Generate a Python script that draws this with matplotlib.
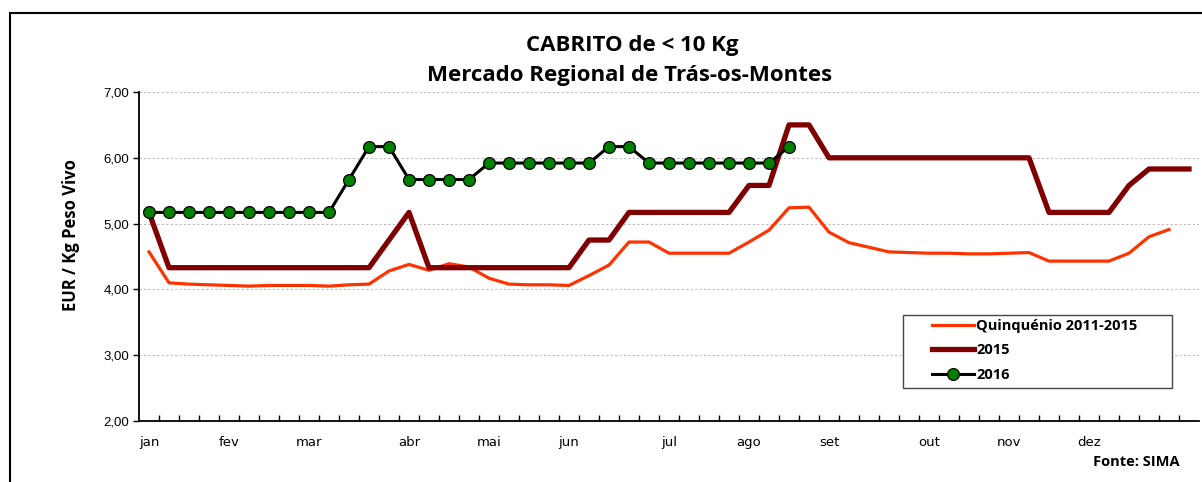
import numpy as np
import matplotlib.pyplot as plt
from matplotlib.patches import Rectangle

# semanas 1..53
semanas = np.arange(53)

quinquenio = [4.57, 4.10, 4.08, 4.07, 4.06, 4.05, 4.06, 4.06, 4.06, 4.05,
              4.07, 4.08, 4.28, 4.38, 4.29, 4.39, 4.34, 4.17, 4.08, 4.07,
              4.07, 4.06, 4.21, 4.37, 4.72, 4.72, 4.55, 4.55, 4.55, 4.55,
              4.72, 4.90, 5.24, 5.25, 4.87, 4.71, 4.64, 4.57, 4.56, 4.55,
              4.55, 4.54, 4.54, 4.55, 4.56, 4.43, 4.43, 4.43, 4.43, 4.55,
              4.80, 4.91, np.nan]

ano_2015 = [5.17, 4.33, 4.33, 4.33, 4.33, 4.33, 4.33, 4.33, 4.33, 4.33,
            4.33, 4.33, 4.75, 5.17, 4.33, 4.33, 4.33, 4.33, 4.33, 4.33,
            4.33, 4.33, 4.75, 4.75, 5.17, 5.17, 5.17, 5.17, 5.17, 5.17,
            5.58, 5.58, 6.50, 6.50, 6.00, 6.00, 6.00, 6.00, 6.00, 6.00,
            6.00, 6.00, 6.00, 6.00, 6.00, 5.17, 5.17, 5.17, 5.17, 5.58,
            5.83, 5.83, 5.83]

ano_2016 = [5.17, 5.17, 5.17, 5.17, 5.17, 5.17, 5.17, 5.17, 5.17, 5.17,
            5.67, 6.17, 6.17, 5.67, 5.67, 5.67, 5.67, 5.92, 5.92, 5.92,
            5.92, 5.92, 5.92, 6.17, 6.17, 5.92, 5.92, 5.92, 5.92, 5.92,
            5.92, 5.92, 6.17]

meses = ['jan', 'fev', 'mar', 'abr', 'mai', 'jun', 'jul', 'ago', 'set',
         'out', 'nov', 'dez']
meses_pos = [0, 4, 8, 13, 17, 21, 26, 30, 34, 39, 43, 47]

# ==========================
# GRÁFICO
# ==========================
W, H = 1202, 482
fig = plt.figure(figsize=(W / 100, H / 100), dpi=100)
ax = fig.add_axes([139/W, 1 - 421/H, 1060/W, 329/H])

ax.plot(semanas, quinquenio, color='#FF3300', lw=2.3,
        label='Quinquénio 2011-2015')
ax.plot(semanas, ano_2015, color='#800000', lw=3.8, label='2015')
ax.plot(semanas[:len(ano_2016)], ano_2016, color='black', lw=2.2,
        marker='o', markersize=8.5, markerfacecolor='#008000',
        markeredgecolor='black', markeredgewidth=0.9, label='2016')

ax.set_xlim(-0.5, 52.5)
ax.set_ylim(2, 7)
ax.set_yticks(np.arange(2, 7.01, 1))
ax.set_yticklabels([f'{v:.2f}'.replace('.', ',') for v in np.arange(2, 7.01, 1)],
                   fontsize=9.5, family='Liberation Sans')
ax.set_xticks(meses_pos)
ax.set_xticklabels(meses, fontsize=9.5, family='DejaVu Sans')
ax.set_xticks(np.arange(0.5, 52.5, 1), minor=True)
ax.tick_params(axis='x', which='major', length=0, pad=11)
ax.tick_params(axis='x', which='minor', direction='in', length=4, width=1)
ax.tick_params(axis='y', direction='out', length=4, width=1, pad=3)

ax.grid(axis='y', color='#BBBBBB', linestyle=(0, (2, 2)), linewidth=0.8)
ax.set_axisbelow(True)
for s in ['top', 'right']:
    ax.spines[s].set_visible(False)
for s in ['left', 'bottom']:
    ax.spines[s].set_linewidth(1.3)

ax.set_ylabel('EUR / Kg Peso Vivo', fontsize=12, fontweight='bold',
              family='Open Sans')
ax.yaxis.set_label_coords((80 - 139) / 1060, (421 - 235) / 329)

fig.text(632/W, 1 - 45/H, 'CABRITO de < 10 Kg', ha='center', va='center',
         fontsize=16, fontweight='bold', family='Open Sans')
fig.text(630/W, 1 - 76/H, 'Mercado Regional de Trás-os-Montes',
         ha='center', va='center', fontsize=16, fontweight='bold',
         family='Open Sans')
fig.text(1180/W, 1 - 462/H, 'Fonte: SIMA', ha='right', va='center',
         fontsize=10.5, fontweight='bold', family='Open Sans')

# legenda: caixa desenhada à parte
ax.add_patch(Rectangle(((903 - 139) / 1060, (421 - 388) / 329),
                       (1172 - 903) / 1060, (388 - 315) / 329,
                       transform=ax.transAxes, facecolor='white',
                       edgecolor='#444444', linewidth=1.0, zorder=4))
leg = ax.legend(loc='upper left',
                bbox_to_anchor=((932 - 139) / 1060, (421 - 319) / 329),
                frameon=False,
                prop={'family': 'Open Sans', 'weight': 'bold', 'size': 10.5},
                handlelength=2.9, borderpad=0.0, labelspacing=0.72,
                handletextpad=0.15, borderaxespad=0)
leg.set_zorder(5)

# moldura exterior
fig.patches.append(Rectangle((10/W, -0.1), 1.2, 1 - 13/H + 0.1,
                             transform=fig.transFigure, fill=False,
                             edgecolor='black', linewidth=1.5))

plt.savefig('out.png', dpi=100)
